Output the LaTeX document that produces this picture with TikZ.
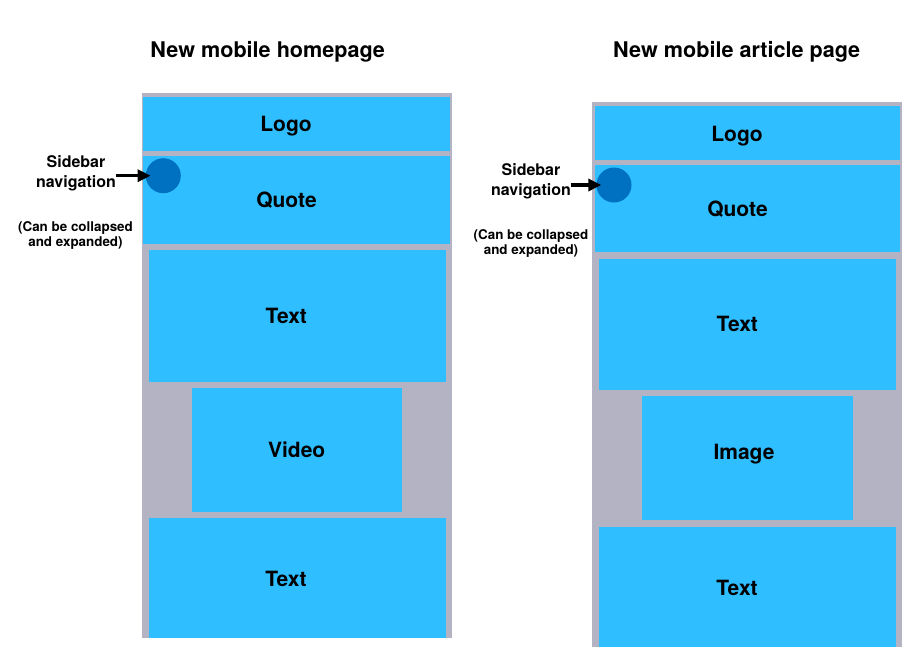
\documentclass[tikz,border=0pt]{standalone}
\usepackage{fontspec}
\setmainfont{TeX Gyre Heros}
\usetikzlibrary{arrows.meta}

\definecolor{panelgray}{RGB}{180,179,195}
\definecolor{blockblue}{RGB}{47,190,255}
\definecolor{navblue}{RGB}{0,112,192}

\tikzset{
  panel/.style={fill=panelgray, draw=none, inner sep=0pt, outer sep=0pt},
  block/.style={fill=blockblue, draw=none, inner sep=0pt, outer sep=0pt},
  blocktext/.style={font=\fontsize{21}{24}\selectfont\bfseries, inner sep=0pt, anchor=base},
  navdot/.style={circle, fill=navblue, draw=none, inner sep=0pt, minimum size=35pt},
  heading/.style={font=\fontsize{21.6}{24}\selectfont\bfseries, inner sep=0pt, anchor=base},
  note/.style={font=\fontsize{16}{20}\selectfont\bfseries, align=center, inner sep=0pt},
  subnote/.style={font=\fontsize{13.4}{15}\selectfont\bfseries, align=center, inner sep=0pt},
  pointer/.style={line width=3.5pt, -{Triangle[length=13pt, width=12pt]}, shorten >=-5pt}
}

\begin{document}
\begin{tikzpicture}[x=1pt, y=-1pt]
  \useasboundingbox (0,0) rectangle (914,664);

  % ---------- homepage ----------
  \node[heading] (htitle) at (267.7,57.3) {New mobile homepage};
  \node[panel, minimum width=310pt, minimum height=545pt] (hpanel) at (297,365.5) {};
  \node[block, minimum width=307pt, minimum height=54pt] (hlogo) at (296.5,123.7) {};
  \node[block, minimum width=307pt, minimum height=88pt] (hquote) at (296.5,200) {};
  \node[block, minimum width=297pt, minimum height=132pt] (htext) at (297.5,316) {};
  \node[block, minimum width=210pt, minimum height=124pt] (hvideo) at (297,450) {};
  \node[block, minimum width=297pt, minimum height=120pt] (htextb) at (297.5,578) {};
  \node[navdot] (hdot) at (163.3,175.7) {};

  \node[blocktext] (hlogo-t)  at (286,131.7) {Logo};
  \node[blocktext] (hquote-t) at (286.5,207.7) {Quote};
  \node[blocktext] (htext-t)  at (286.3,323.3) {Text};
  \node[blocktext] (hvideo-t) at (296.7,457.3) {Video};
  \node[blocktext] (htextb-t) at (286,586) {Text};

  \node[note] (hnav) at (76,173.5) {Sidebar\\navigation};
  \node[subnote] (hnote) at (75.5,235) {(Can be collapsed\\and expanded)};
  \coordinate (hfrom) at (116,175.7);
  \draw[pointer] (hfrom) -- (hdot.west);

  % ---------- article page ----------
  \node[heading] (atitle) at (736.7,57.3) {New mobile article page};
  \node[panel, minimum width=310pt, minimum height=544.4pt] (apanel) at (747,374.5) {};
  \node[block, minimum width=305pt, minimum height=54pt] (alogo) at (747.5,133) {};
  \node[block, minimum width=305pt, minimum height=86.7pt] (aquote) at (747.5,208.3) {};
  \node[block, minimum width=297pt, minimum height=131pt] (atext) at (747.5,324.5) {};
  \node[block, minimum width=211pt, minimum height=123.7pt] (aimage) at (747.5,457.8) {};
  \node[block, minimum width=297pt, minimum height=119.7pt] (atextb) at (747.5,586.8) {};
  \node[navdot] (adot) at (614,185) {};

  \node[blocktext] (alogo-t)  at (737,141) {Logo};
  \node[blocktext] (aquote-t) at (737.5,216.7) {Quote};
  \node[blocktext] (atext-t)  at (737.3,331.7) {Text};
  \node[blocktext] (aimage-t) at (744,459.3) {Image};
  \node[blocktext] (atextb-t) at (737,595) {Text};

  \node[note] (anav) at (531,181.5) {Sidebar\\navigation};
  \node[subnote] (anote) at (531,243) {(Can be collapsed\\and expanded)};
  \coordinate (afrom) at (570.7,185);
  \draw[pointer] (afrom) -- (adot.west);
\end{tikzpicture}
\end{document}
